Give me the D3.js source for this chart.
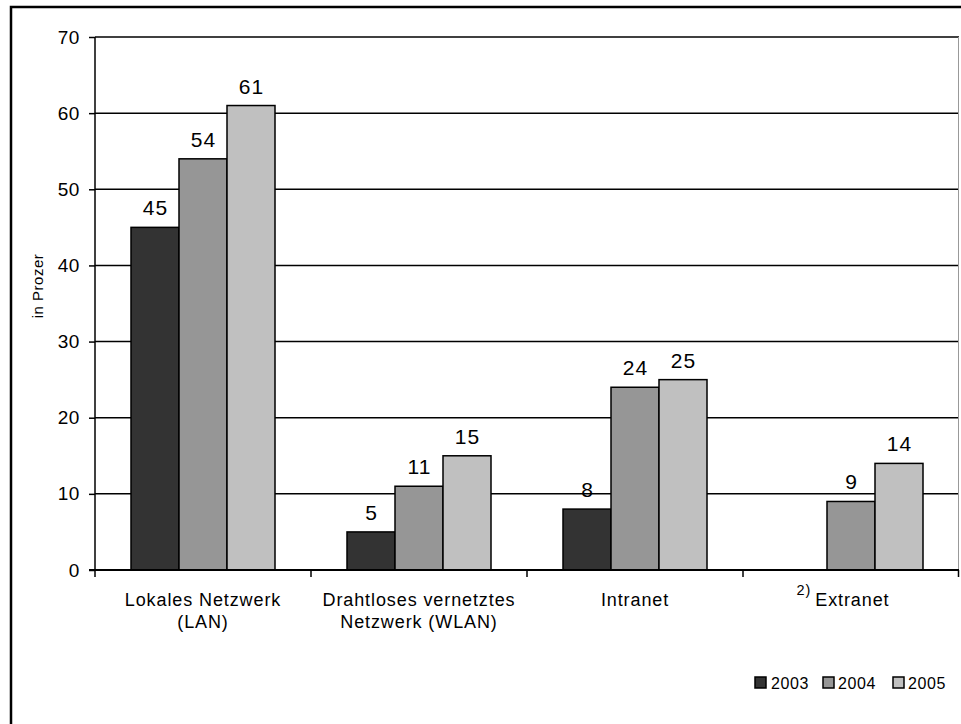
<!DOCTYPE html>
<html>
<head>
<meta charset="utf-8">
<script src="https://cdn.jsdelivr.net/npm/d3@7"></script>
<style>
  html, body { margin: 0; padding: 0; background: #fff; }
  svg { display: block; font-family: Arial, "Liberation Sans", sans-serif; }
</style>
</head>
<body>
<svg id="chart" width="961" height="724"></svg>
<script>
// Kategorien und Jahreswerte (Anteil in Prozent)
const categories = [
  ["Lokales Netzwerk", "(LAN)"],
  ["Drahtloses vernetztes", "Netzwerk (WLAN)"],
  ["Intranet"],
  ["Extranet"]
];
const years = ["2003", "2004", "2005"];
const values2003 = [45, 5, 8, null];
const values2004 = [54, 11, 24, 9];
const values2005 = [61, 15, 25, 14];
const yTicks = [0, 10, 20, 30, 40, 50, 60, 70];
const colors = ["#333333", "#969696", "#c0c0c0"];

const series = [values2003, values2004, values2005];

const svg = d3.select("#chart");
const margin = { left: 95, right: 2, top: 37, bottom: 154 };
const width = 961, height = 724;
const plotW = width - margin.left - margin.right;
const plotH = height - margin.top - margin.bottom;

// Außenrahmen
svg.append("rect")
  .attr("x", 11).attr("y", 7)
  .attr("width", 980).attr("height", 740)
  .attr("fill", "none").attr("stroke", "#000").attr("stroke-width", 2.5);

const g = svg.append("g").attr("transform", `translate(${margin.left},${margin.top})`);

const x0 = d3.scaleBand().domain(d3.range(categories.length)).range([0, plotW]).paddingInner(0).paddingOuter(0);
const x1 = d3.scaleBand().domain(years).range([0, x0.bandwidth() * 2 / 3]);
const groupOffset = x0.bandwidth() / 6;
const y = d3.scaleLinear().domain([0, 70]).range([plotH, 0]);

// Gitterlinien
g.selectAll("line.grid")
  .data(yTicks.filter(t => t > 0))
  .join("line")
  .attr("class", "grid")
  .attr("x1", 0).attr("x2", plotW)
  .attr("y1", d => y(d)).attr("y2", d => y(d))
  .attr("stroke", "#000").attr("stroke-width", 1.5);

// rechter Rand der Zeichenfläche
g.append("line")
  .attr("x1", plotW - 0.5).attr("x2", plotW - 0.5)
  .attr("y1", 0).attr("y2", plotH)
  .attr("stroke", "#999").attr("stroke-width", 1);

// Balken
const bars = [];
series.forEach((vals, si) => {
  vals.forEach((v, ci) => {
    if (v !== null) bars.push({ ci, si, v });
  });
});

g.selectAll("rect.bar")
  .data(bars)
  .join("rect")
  .attr("class", "bar")
  .attr("x", d => x0(d.ci) + groupOffset + x1(years[d.si]))
  .attr("y", d => y(d.v))
  .attr("width", x1.bandwidth())
  .attr("height", d => plotH - y(d.v))
  .attr("fill", d => colors[d.si])
  .attr("stroke", "#000").attr("stroke-width", 1.5);

// Wertbeschriftungen
g.selectAll("text.val")
  .data(bars)
  .join("text")
  .attr("class", "val")
  .attr("x", d => x0(d.ci) + groupOffset + x1(years[d.si]) + x1.bandwidth() / 2 + 0.5)
  .attr("y", d => y(d.v) - 12)
  .attr("text-anchor", "middle")
  .attr("font-size", 21)
  .attr("letter-spacing", 1)
  .attr("fill", "#000")
  .text(d => d.v);

// Y-Achse
const yAxis = d3.axisLeft(y).tickValues(yTicks).tickSize(6).tickPadding(9);
const ya = g.append("g").call(yAxis);
ya.select(".domain").attr("stroke", "#000").attr("stroke-width", 1.5).attr("d", `M0,0V${plotH}`);
ya.selectAll(".tick line").attr("stroke", "#000").attr("stroke-width", 1.5);
ya.selectAll(".tick text").attr("font-size", 19).attr("letter-spacing", 0.6).attr("fill", "#000")
  .attr("font-family", "Arial, 'Liberation Sans', sans-serif");

// X-Achse
const xa = g.append("g").attr("transform", `translate(0,${plotH})`);
xa.append("line").attr("x1", -6).attr("x2", plotW).attr("y1", 0).attr("y2", 0)
  .attr("stroke", "#000").attr("stroke-width", 2);
xa.selectAll("line.tick")
  .data(d3.range(categories.length + 1))
  .join("line")
  .attr("class", "tick")
  .attr("x1", d => d < categories.length ? x0(d) : plotW - 0.5)
  .attr("x2", d => d < categories.length ? x0(d) : plotW - 0.5)
  .attr("y1", 0).attr("y2", 7)
  .attr("stroke", "#000").attr("stroke-width", 1.5);

// Kategorienbeschriftungen
categories.forEach((lines, ci) => {
  const cx = x0(ci) + x0.bandwidth() / 2;
  const t = xa.append("text")
    .attr("text-anchor", "middle")
    .attr("font-size", 18)
    .attr("letter-spacing", 0.9)
    .attr("fill", "#000");
  if (ci === categories.length - 1) {
    t.attr("x", cx - 8).attr("y", 36);
    t.append("tspan").attr("font-size", 14.5).attr("dy", -11).text("2)");
    t.append("tspan").attr("dx", 4).attr("dy", 11).text(lines[0]);
  } else {
    lines.forEach((ln, li) => {
      t.append("tspan").attr("x", cx).attr("y", 36 + li * 22).text(ln);
    });
  }
});

// Y-Achsentitel
svg.append("text")
  .attr("transform", "translate(43,286) rotate(-90)")
  .attr("text-anchor", "middle")
  .attr("font-size", 15)
  .attr("letter-spacing", 0.5)
  .attr("fill", "#000")
  .text("in Prozer");

// Legende
const legendItems = [
  { x: 755, tx: 771 },
  { x: 823, tx: 838 },
  { x: 893, tx: 908 }
];
const legend = svg.append("g");
years.forEach((yr, i) => {
  legend.append("rect")
    .attr("x", legendItems[i].x).attr("y", 677)
    .attr("width", 11).attr("height", 11)
    .attr("fill", colors[i]).attr("stroke", "#000").attr("stroke-width", 1.5);
  legend.append("text")
    .attr("x", legendItems[i].tx).attr("y", 689)
    .attr("font-size", 16)
    .attr("letter-spacing", 0.6)
    .attr("fill", "#000")
    .text(yr);
});
</script>
</body>
</html>
